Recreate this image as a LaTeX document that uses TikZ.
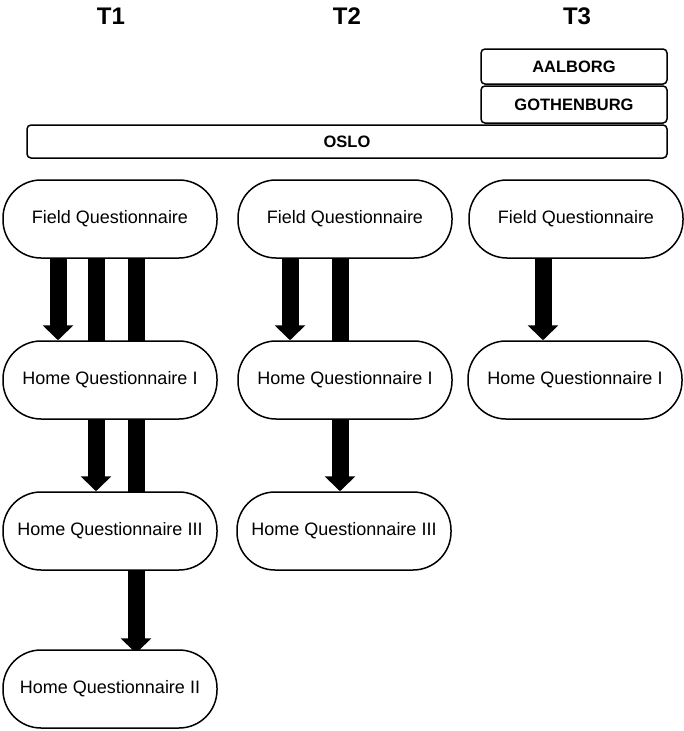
\documentclass[tikz,border=0pt]{standalone}
\usepackage{fontspec}
\setmainfont{Liberation Sans}
\usepackage{tikz}
\usetikzlibrary{arrows.meta,backgrounds}

\begin{document}
\begin{tikzpicture}[x=1pt, y=-1pt,
    title/.style={font=\fontsize{24}{28}\selectfont\bfseries},
    city/.style={draw, line width=1.5pt, rounded corners=4pt, inner sep=0pt,
        font=\fontsize{16.5}{19}\selectfont\bfseries},
    quest/.style={draw, fill=white, line width=1.5pt, rounded corners=38pt,
        minimum width=214pt, minimum height=78pt, inner sep=0pt,
        font=\fontsize{18}{21}\selectfont},
    flow/.style={line width=17pt, -{Triangle[width=30pt,length=15pt]}}]
    \useasboundingbox (0,0) rectangle (684,731);
    % time points
    \node[title] (t1) at (111,16) {T1};
    \node[title] (t2) at (347,16) {T2};
    \node[title] (t3) at (577,16) {T3};
    % cities
    \node[city, minimum width=186pt, minimum height=35pt] (aalborg) at (574,66.5) {AALBORG};
    \node[city, minimum width=186pt, minimum height=37pt] (gothenburg) at (574,104.5) {GOTHENBURG};
    \node[city, minimum width=640pt, minimum height=33pt] (oslo) at (347,141.5) {OSLO};
    % T1
    \node[quest] (field1) at (110,219) {Field Questionnaire};
    \node[quest] (homeI1) at (110,380) {Home Questionnaire I};
    \node[quest] (homeIII1) at (110,531) {Home Questionnaire III};
    \node[quest] (homeII1) at (110,689) {Home Questionnaire II};
    % T2
    \node[quest] (field2) at (345,219) {Field Questionnaire};
    \node[quest] (homeI2) at (345,380) {Home Questionnaire I};
    \node[quest] (homeIII2) at (344,531) {Home Questionnaire III};
    % T3
    \node[quest] (field3) at (576,219) {Field Questionnaire};
    \node[quest] (homeI3) at (575,380) {Home Questionnaire I};
    % arrows behind the boxes
    \begin{scope}[on background layer]
        \draw[flow] ([xshift=-52pt]field1.center) -- ([xshift=-52pt]homeI1.north);
        \draw[flow] ([xshift=-14pt]field1.center) -- ([xshift=-14pt]homeIII1.north);
        \draw[flow] ([xshift=26pt]field1.center) -- ([xshift=26pt,yshift=-4pt]homeII1.north);
        \draw[flow] ([xshift=-55pt]field2.center) -- ([xshift=-55pt]homeI2.north);
        \draw[flow] ([xshift=-5pt]field2.center) -- ([xshift=-4pt]homeIII2.north);
        \draw[flow] ([xshift=-33pt]field3.center) -- ([xshift=-32pt]homeI3.north);
    \end{scope}
\end{tikzpicture}
\end{document}
